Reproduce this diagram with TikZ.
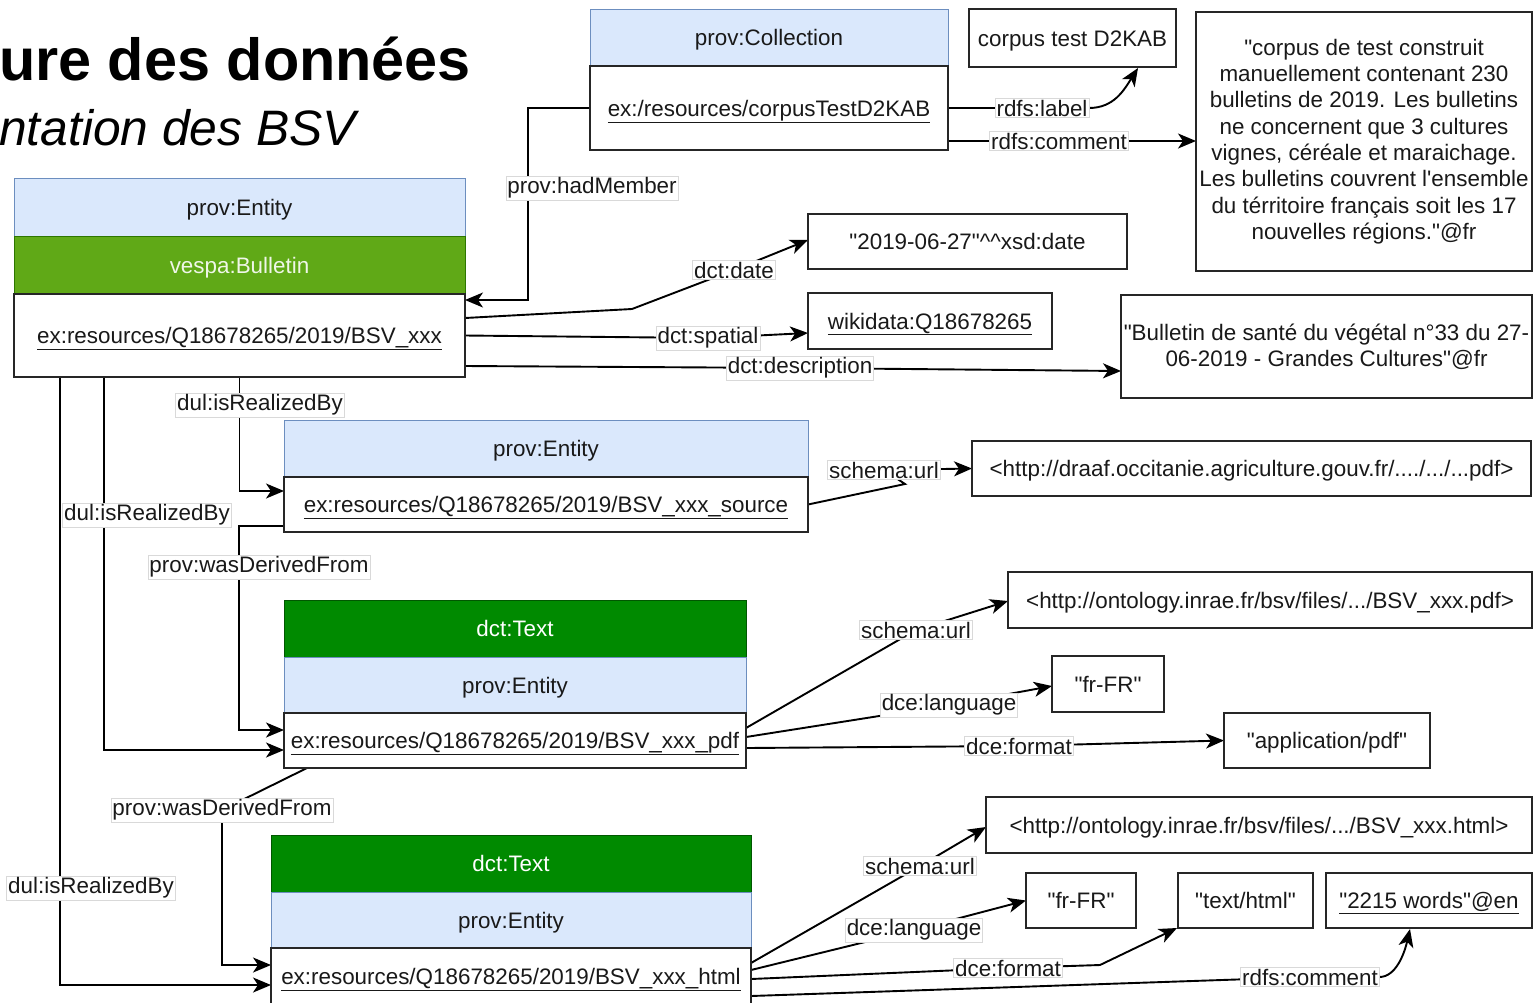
\documentclass[tikz,border=0pt]{standalone}
\usepackage{fontspec}
\setmainfont{Liberation Sans}
\usetikzlibrary{arrows.meta,calc}
\definecolor{blueF}{HTML}{DAE8FC}
\definecolor{blueD}{HTML}{6C8EBF}
\definecolor{vesp}{HTML}{60A917}
\definecolor{vespD}{HTML}{2D7600}
\definecolor{dgreen}{HTML}{008A00}
\definecolor{dgreenD}{HTML}{005700}
\pgfdeclarelayer{bg}\pgfsetlayers{bg,main}
\newcommand\fsz{\fontsize{22.4}{26.3}\selectfont}
\newcommand\qq{\textquotedbl}
\begin{document}
\begin{tikzpicture}[x=1pt,y=-1pt,
 every node/.style={font=\fsz, inner sep=0pt, outer sep=0pt, text=black!90},
 tb/.style={text height=19pt, text depth=3pt},
 boxb/.style={tb, draw=black!85, line width=1.6pt, fill=white},
 hdrb/.style={tb, draw=blueD, line width=1pt, fill=blueF},
 vesb/.style={tb, draw=vespD, line width=1pt, fill=vesp, text=white!90!vesp},
 txtb/.style={tb, draw=dgreenD, line width=1pt, fill=dgreen, text=white},
 lbl/.style={fill=white, draw=black!15, line width=0.6pt, inner sep=1.5pt},
 conn/.style={line width=1.9pt, draw=black},
 arr/.style={conn, -{Stealth[length=18pt,width=15pt,inset=5pt]}},
]
\useasboundingbox (0,0) rectangle (1533,1002);
\begin{pgfonlayer}{bg}
\fill[white] (0,0) rectangle (1533,1002);
\end{pgfonlayer}

% title
\node[anchor=base west, font=\bfseries\fontsize{59.4}{62}\selectfont, text=black] (t1) at (-1,80) {ure des données};
\node[anchor=base west, font=\itshape\fontsize{49.8}{52}\selectfont, text=black] (t2) at (-1,145) {ntation des BSV};

% collection
\node[hdrb, minimum width=358pt, minimum height=57pt] (colH) at (769,37.5) {prov:Collection};
\node[boxb, minimum width=358pt, minimum height=84pt] (colB) at (769,108) {\underline{ex:/resources/corpusTestD2KAB}};
\node[boxb, minimum width=207pt, minimum height=58pt] (cor) at (1072.5,38) {corpus test D2KAB};
\node[draw=black!85, line width=1.6pt, fill=white, minimum width=336pt, minimum height=259pt, align=center] (com) at (1364,141.5)
 {\qq corpus de test construit\\manuellement contenant 230\\bulletins de 2019. Les bulletins\\ne concernent que 3 cultures\\vignes, céréale et maraichage.\\Les bulletins couvrent l\textquotesingle ensemble\\du térritoire français soit les 17\\nouvelles régions.\qq @fr};

% bulletin
\node[hdrb, minimum width=451pt, minimum height=58pt] (bulH) at (239.5,207) {prov:Entity};
\node[vesb, minimum width=451pt, minimum height=58pt] (bulV) at (239.5,265) {vespa:Bulletin};
\node[boxb, minimum width=451pt, minimum height=83pt] (bulB) at (239.5,335.5) {\underline{ex:resources/Q18678265/2019/BSV\_xxx}};

\node[boxb, minimum width=319pt, minimum height=55pt] (date) at (967.5,241.5) {\qq 2019-06-27\qq\textasciicircum\textasciicircum xsd:date};
\node[boxb, minimum width=244pt, minimum height=56pt] (wiki) at (930,321) {\underline{wikidata:Q18678265}};
\node[draw=black!85, line width=1.6pt, fill=white, minimum width=411pt, minimum height=103pt, align=center] (desc) at (1326.5,346.5)
 {\qq Bulletin de santé du végétal n°33 du 27-\\06-2019 - Grandes Cultures\qq @fr};

% source
\node[hdrb, minimum width=524pt, minimum height=57pt] (srcH) at (546,448.5) {prov:Entity};
\node[boxb, minimum width=524pt, minimum height=55pt] (srcB) at (546,504.5) {\underline{ex:resources/Q18678265/2019/BSV\_xxx\_source}};
\node[boxb, minimum width=559pt, minimum height=55pt] (draaf) at (1251.5,468.5) {<http://draaf.occitanie.agriculture.gouv.fr/..../.../...pdf>};

% pdf
\node[txtb, minimum width=462pt, minimum height=57pt] (pdfT) at (515,628.5) {dct:Text};
\node[hdrb, minimum width=462pt, minimum height=56pt] (pdfH) at (515,685) {prov:Entity};
\node[boxb, minimum width=462pt, minimum height=55pt] (pdfB) at (515,740.5) {\underline{ex:resources/Q18678265/2019/BSV\_xxx\_pdf}};
\node[boxb, minimum width=524pt, minimum height=56pt] (ontpdf) at (1270,600) {<http://ontology.inrae.fr/bsv/files/.../BSV\_xxx.pdf>};
\node[boxb, minimum width=112pt, minimum height=56pt] (fr1) at (1108,684) {\qq fr-FR\qq};
\node[boxb, minimum width=206pt, minimum height=55pt] (apdf) at (1327,740.5) {\qq application/pdf\qq};

% html
\node[txtb, minimum width=480pt, minimum height=57pt] (htmT) at (511,863.5) {dct:Text};
\node[hdrb, minimum width=480pt, minimum height=56pt] (htmH) at (511,920) {prov:Entity};
\node[boxb, minimum width=480pt, minimum height=57pt] (htmB) at (511,976.5) {\underline{ex:resources/Q18678265/2019/BSV\_xxx\_html}};
\node[boxb, minimum width=546pt, minimum height=56pt] (onthtml) at (1259,825) {<http://ontology.inrae.fr/bsv/files/.../BSV\_xxx.html>};
\node[boxb, minimum width=110pt, minimum height=55pt] (fr2) at (1081,900.5) {\qq fr-FR\qq};
\node[boxb, minimum width=135pt, minimum height=55pt] (thtml) at (1245.5,900.5) {\qq text/html\qq};
\node[boxb, minimum width=206pt, minimum height=55pt] (words) at (1429,900.5) {\underline{\qq 2215 words\qq @en}};

% labels
\node[lbl] (lHad) at (592,188) {prov:hadMember};
\node[lbl] (lLab) at (1042,108) {rdfs:label};
\node[lbl] (lCom) at (1059,141) {rdfs:comment};
\node[lbl] (lDate) at (734,270) {dct:date};
\node[lbl] (lSpa) at (708,338) {dct:spatial};
\node[lbl] (lDesc) at (800,368) {dct:description};
\node[lbl] (lReal1) at (260,405) {dul:isRealizedBy};
\node[lbl] (lReal2) at (147,515) {dul:isRealizedBy};
\node[lbl] (lReal3) at (91,888) {dul:isRealizedBy};
\node[lbl] (lDer1) at (259,567) {prov:wasDerivedFrom};
\node[lbl] (lDer2) at (222,810) {prov:wasDerivedFrom};
\node[lbl] (lUrl1) at (884,470) {schema:url};
\node[lbl] (lUrl2) at (916,630) {schema:url};
\node[lbl] (lUrl3) at (920,866) {schema:url};
\node[lbl] (lLang1) at (949,705) {dce:language};
\node[lbl] (lLang2) at (914,930) {dce:language};
\node[lbl] (lFmt1) at (1019,746) {dce:format};
\node[lbl] (lFmt2) at (1008,968) {dce:format};
\node[lbl] (lCom2) at (1310,977) {rdfs:comment};

\begin{pgfonlayer}{bg}
\draw[arr] (colB.west) -- ++(-62,0) |- ($(bulB.east)+(0,-35.5)$);
\draw[arr] (colB.east) -- (lLab.center) -- (lLab.east) .. controls +(25,0) and +(-14,22) .. ($(cor.south)+(65.5,1)$);
\draw[arr] ($(colB.east)+(0,33)$) -- ($(com.west)+(0,-0.5)$);
\draw[arr] ($(bulB.east)+(0,-17.5)$) -- (632,309) -- (lDate.center) -- ($(date.west)+(0,-1.5)$);
\draw[arr] (bulB.east) -- (lSpa.center) -- ($(wiki.west)+(0,12)$);
\draw[arr] ($(bulB.east)+(0,30.5)$) -- (lDesc.center) -- ($(desc.west)+(0,24.5)$);
\draw[arr] (bulB.south) |- ($(srcB.west)+(0,-13.5)$);
\draw[arr] ($(bulB.south)+(-135.5,0)$) |- ($(pdfB.west)+(0,9.5)$);
\draw[arr] ($(bulB.south)+(-179.5,0)$) |- ($(htmB.west)+(0,8.5)$);
\draw[arr] ($(srcB.west)+(0,21.5)$) -- ++(-45,0) |- ($(pdfB.west)+(0,-10.5)$);
\draw[arr] ($(pdfB.south west)+(23,0)$) -- (lDer2.center) |- ($(htmB.west)+(0,-11.5)$);
\draw[arr] (srcB.east) -- (905,484) -- (lUrl1.center) -- (draaf.west);
\draw[arr] ($(pdfB.east)+(0,-12.5)$) -- (lUrl2.center) -- ($(ontpdf.west)+(0,1)$);
\draw[arr] ($(pdfB.east)+(0,-3.5)$) -- (lLang1.center) -- ($(fr1.west)+(0,2)$);
\draw[arr] ($(pdfB.east)+(0,7.5)$) -- (lFmt1.center) -- (apdf.west);
\draw[arr] ($(htmB.east)+(0,-13.5)$) -- (lUrl3.center) -- ($(onthtml.west)+(0,2)$);
\draw[arr] ($(htmB.east)+(0,-6.5)$) -- (lLang2.center) -- (fr2.west);
\draw[arr] ($(htmB.east)+(0,2.5)$) -- (lFmt2.center) -- (1100,965) -- ($(thtml.south west)+(-1,0)$);
\draw[arr] ($(htmB.east)+(0,19.5)$) -- (lCom2.center) -- (lCom2.east) .. controls +(16,0) and +(-6,26) .. ($(words.south)+(-19,1)$);
\end{pgfonlayer}
\end{tikzpicture}
\end{document}
